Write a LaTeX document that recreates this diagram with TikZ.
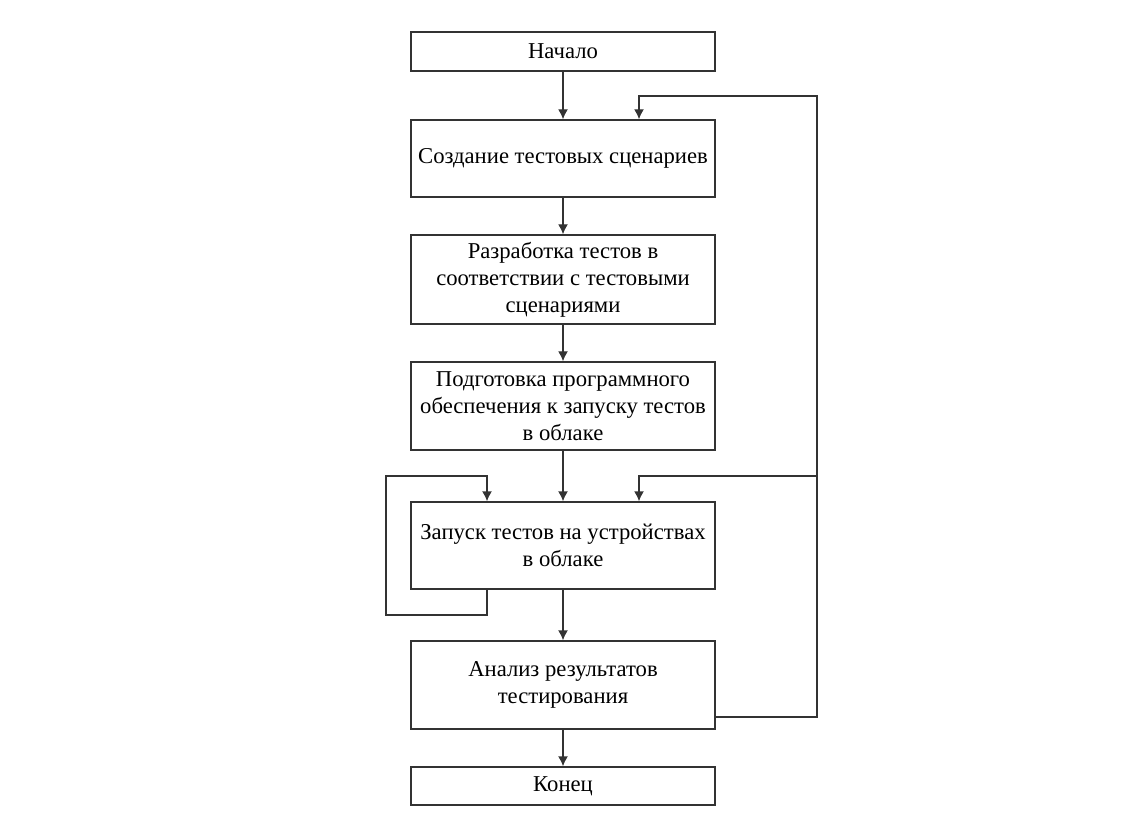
\documentclass[tikz,border=0pt]{standalone}
\usepackage{fontspec}
\setmainfont{Liberation Serif}
\usetikzlibrary{arrows.meta}

\begin{document}
\begin{tikzpicture}[>={Latex[length=2mm,width=2mm]}, line width=0.8pt,
  etape/.style={draw=black!80, rectangle, align=center, minimum width=6.08cm, inner sep=0pt, font=\fontsize{12.9}{15.4}\selectfont}]
\useasboundingbox (0,0) rectangle (22.5,16.74);

\node[etape, minimum height=0.78cm] (debut) at (11.26,15.71) {Начало};
\node[etape, minimum height=1.54cm] (creation) at (11.26,13.57) {Создание тестовых сценариев};
\node[etape, minimum height=1.78cm] (developpement) at (11.26,11.15) {Разработка тестов в\\соответствии с тестовыми\\сценариями};
\node[etape, minimum height=1.76cm] (preparation) at (11.26,8.62) {Подготовка программного\\обеспечения к запуску тестов\\в облаке};
\node[etape, minimum height=1.74cm] (lancement) at (11.26,5.83) {Запуск тестов на устройствах\\в облаке};
\node[etape, minimum height=1.76cm] (analyse) at (11.26,3.04) {Анализ результатов\\тестирования};
\node[etape, minimum height=0.76cm] (fin) at (11.26,1.02) {Конец};

\coordinate (coin haut) at (16.34,14.82);
\coordinate (coin bas) at (16.34,2.40);
\coordinate (branche) at (16.34,7.22);
\coordinate (branche2) at (12.78,7.22);
\coordinate (boucle haut) at (7.72,7.22);
\coordinate (boucle bas) at (7.72,4.44);
\coordinate (xgauche) at (9.74,7.22);

\draw[->, black!80] (debut.south) -- (creation.north);
\draw[->, black!80] (creation.south) -- (developpement.north);
\draw[->, black!80] (developpement.south) -- (preparation.north);
\draw[->, black!80] (preparation.south) -- (lancement.north);
\draw[->, black!80] (lancement.south) -- (analyse.north);
\draw[->, black!80] (analyse.south) -- (fin.north);

\draw[->, black!80] (coin bas -| analyse.east) -- (coin bas) -- (coin haut) -| (creation.north -| branche2);
\draw[->, black!80] (branche) -- (branche2) -- (lancement.north -| branche2);
\draw[->, black!80] (lancement.south -| xgauche) |- (boucle bas) -- (boucle haut) -- (xgauche) -- (lancement.north -| xgauche);
\end{tikzpicture}
\end{document}
